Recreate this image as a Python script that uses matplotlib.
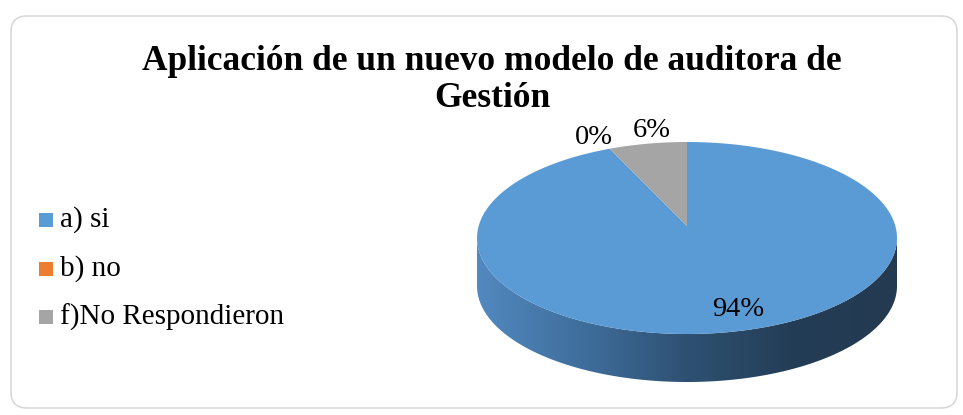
import numpy as np
import matplotlib.pyplot as plt
from matplotlib.patches import Polygon, Rectangle, FancyBboxPatch
from matplotlib.colors import LinearSegmentedColormap

plt.rcParams['font.family'] = ['Liberation Serif', 'DejaVu Serif']

title = 'Aplicación de un nuevo modelo de auditora de\nGestión'
labels = ['a) si', 'b) no', 'f)No Respondieron']
values = [94, 0, 6]
pct_text = ['94%', '0%', '6%']
colors = ['#5b9bd5', '#ed7d31', '#a5a5a5']

fig = plt.figure(figsize=(9.63, 4.15), dpi=100)
ax = fig.add_axes([0, 0, 1, 1])
ax.set_xlim(0, 963)
ax.set_ylim(415, 0)
ax.axis('off')

# chart frame
ax.add_patch(FancyBboxPatch((11, 16), 946, 392, boxstyle='round,pad=0,rounding_size=16',
                            fc='white', ec='#d9d9d9', lw=1.2))

ax.text(492, 80, title, ha='center', va='center', fontsize=25.5, fontweight='bold',
        linespacing=1.18)

# pie geometry (pixels)
cx, cy, a, b, depth = 687, 238, 210, 96, 48

def rim(t0, t1, n=200):
    t = np.radians(np.linspace(t0, t1, n))
    return cx + a * np.sin(t), cy - b * np.cos(t)

# side wall of front part (blue covers whole front)
xs, ys = rim(90, 270)
side = np.column_stack([np.r_[xs, xs[::-1]], np.r_[ys, ys[::-1] + depth]])
side_poly = Polygon(side, closed=True, fc='none', ec='none')
ax.add_patch(side_poly)
cmap = LinearSegmentedColormap.from_list('side', ['#5289c0', '#3f6e9c', '#2e5173', '#243d56', '#233a51'])
grad = np.linspace(0, 1, 256).reshape(1, -1)
im = ax.imshow(grad, cmap=cmap, extent=(cx - a, cx + a, cy + b + depth, cy - 5),
               aspect='auto', zorder=2)
im.set_clip_path(side_poly)

# top slices, clockwise from 12 o'clock
start = 0
for v, c in zip(values, colors):
    if v == 0:
        continue
    ang = v / sum(values) * 360
    px, py = rim(start, start + ang)
    ax.add_patch(Polygon(np.column_stack([np.r_[cx, px], np.r_[cy - 12, py]]),
                         closed=True, fc=c, ec='none', zorder=3))
    start += ang

ax.text(738, 309, pct_text[0], ha='center', va='center', fontsize=20.5, zorder=4)
ax.text(594, 137, pct_text[1], ha='center', va='center', fontsize=20.5, zorder=4)
ax.text(652, 130, pct_text[2], ha='center', va='center', fontsize=20.5, zorder=4)

# legend
for i, (lab, c) in enumerate(zip(labels, colors)):
    y = 220 + i * 48.5
    ax.add_patch(Rectangle((39, y - 7), 14, 14, fc=c, ec='none'))
    ax.text(60, y, lab, ha='left', va='center', fontsize=21)

fig.savefig('out.png', dpi=100)
